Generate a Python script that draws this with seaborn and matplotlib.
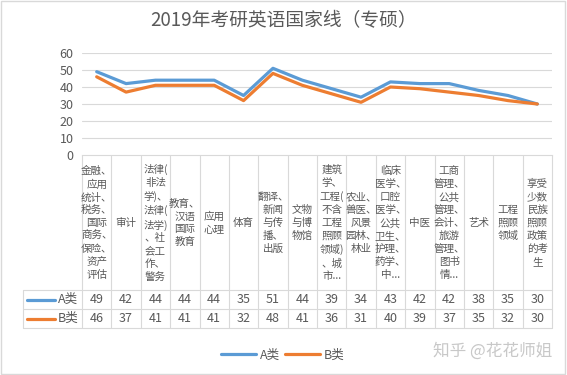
import matplotlib
matplotlib.use("Agg")
import matplotlib.pyplot as plt
import matplotlib.transforms as mtransforms
from matplotlib.lines import Line2D
from matplotlib.patches import Rectangle
import seaborn as sns
import pandas as pd

categories = [
    "金融、\n应用\n统计、\n税务、\n国际\n商务、\n保险、\n资产\n评估",
    "审计",
    "法律(\n非法\n学)、\n法律(\n法学)\n、社\n会工\n作、\n警务",
    "教育、\n汉语\n国际\n教育",
    "应用\n心理",
    "体育",
    "翻译、\n新闻\n与传\n播、\n出版",
    "文物\n与博\n物馆",
    "建筑\n学、\n工程(\n不含\n工程\n照顾\n领域)\n、城\n市...",
    "农业、\n兽医、\n风景\n园林、\n林业",
    "临床\n医学、\n口腔\n医学、\n公共\n卫生、\n护理、\n药学、\n中...",
    "中医",
    "工商\n管理、\n公共\n管理、\n会计、\n旅游\n管理、\n图书\n情...",
    "艺术",
    "工程\n照顾\n领域",
    "享受\n少数\n民族\n照顾\n政策\n的考\n生",
]
series_a = [49, 42, 44, 44, 44, 35, 51, 44, 39, 34, 43, 42, 42, 38, 35, 30]
series_b = [46, 37, 41, 41, 41, 32, 48, 41, 36, 31, 40, 39, 37, 35, 32, 30]
series_names = ["A类", "B类"]
yticks = [0, 10, 20, 30, 40, 50, 60]
title = "2019年考研英语国家线（专硕）"
watermark = "知乎 @花花师姐"

colors = {"A类": "#5B9BD5", "B类": "#ED7D31"}
TEXT = "#595959"
GRID = "#D9D9D9"

W, H = 567, 375
sns.set_theme(style="white")
plt.rcParams["font.family"] = ["Noto Sans CJK SC", "DejaVu Sans"]

fig = plt.figure(figsize=(W / 100, H / 100), dpi=100)
fig.patch.set_facecolor("white")

def fx(px):
    return px / W

def fy(py):
    return 1 - py / H

left, right, top, bottom = 82, 552, 53, 155
ax = fig.add_axes([fx(left), fy(bottom), fx(right) - fx(left), fy(top) - fy(bottom)])

n = len(categories)
df = pd.DataFrame({
    "pos": list(range(n)) * 2,
    "category": categories * 2,
    "value": series_a + series_b,
    "series": [series_names[0]] * n + [series_names[1]] * n,
})
sns.lineplot(data=df, x="pos", y="value", hue="series", palette=colors,
             linewidth=2.3, ax=ax, legend=False, sort=False)

ax.set_xlim(-0.5, n - 0.5)
ax.set_ylim(0, 60)
ax.set_yticks(yticks)
ax.set_yticklabels([str(t) for t in yticks], fontsize=9, color=TEXT)
ax.set_xticks([])
ax.set_xlabel("")
ax.set_ylabel("")
ax.tick_params(axis="y", length=0, pad=6)
for s in ["left", "right", "top"]:
    ax.spines[s].set_visible(False)
ax.spines["bottom"].set_color(GRID)
ax.spines["bottom"].set_linewidth(0.8)
for t in yticks[1:]:
    ax.axhline(t, color=GRID, linewidth=0.8, zorder=0)

# blended transform: x in data units, y in figure units
bt = mtransforms.blended_transform_factory(ax.transData, fig.transFigure)

table_top, row1, table_bottom = 290, 309, 328
header_left = 23

# vertical separators
for i in range(n + 1):
    x = i - 0.5
    fig.add_artist(Line2D([x, x], [fy(bottom), fy(table_bottom)], transform=bt,
                          color=GRID, linewidth=0.8))
fig.add_artist(Line2D([fx(header_left)] * 2, [fy(table_top), fy(table_bottom)],
                      transform=fig.transFigure, color=GRID, linewidth=0.8))
# horizontal separators
for yy in [table_top, row1, table_bottom]:
    fig.add_artist(Line2D([fx(header_left), fx(right)], [fy(yy), fy(yy)],
                          transform=fig.transFigure, color=GRID, linewidth=0.8))

# category labels
for i, c in enumerate(categories):
    fig.text(i, fy((bottom + table_top) / 2 + 0.5), c, transform=bt, ha="center", va="center",
             fontsize=7.6, color=TEXT, linespacing=1.36)

# table values
for r, (name, vals) in enumerate(zip(series_names, [series_a, series_b])):
    ymid = fy([table_top, row1][r] + 9.5)
    for i, v in enumerate(vals):
        fig.text(i, ymid, str(v), transform=bt, ha="center", va="center",
                 fontsize=9, color=TEXT)
    fig.add_artist(Line2D([fx(27), fx(55)], [ymid, ymid], transform=fig.transFigure,
                          color=colors[name], linewidth=2.3))
    fig.text(fx(58), ymid, name, ha="left", va="center", fontsize=9, color=TEXT)

# title
fig.text(0.5, fy(21), title, ha="center", va="center", fontsize=13.5, color=TEXT)

# legend
handles = [Line2D([], [], color=colors[nm], linewidth=2.3) for nm in series_names]
fig.legend(handles, series_names, loc="center", bbox_to_anchor=(fx(283), fy(355)),
           ncol=2, frameon=False, fontsize=9, handlelength=2.8, columnspacing=0.4,
           handletextpad=0.3, labelcolor=TEXT)

# watermark
fig.text(fx(552), fy(351), watermark, ha="right", va="center", fontsize=12,
         color="#C8C8C8")

# outer border
fig.add_artist(Rectangle((0.002, 0.003), 0.995, 0.994, transform=fig.transFigure,
                         fill=False, edgecolor=GRID, linewidth=1))

fig.savefig("out.png", dpi=100)
